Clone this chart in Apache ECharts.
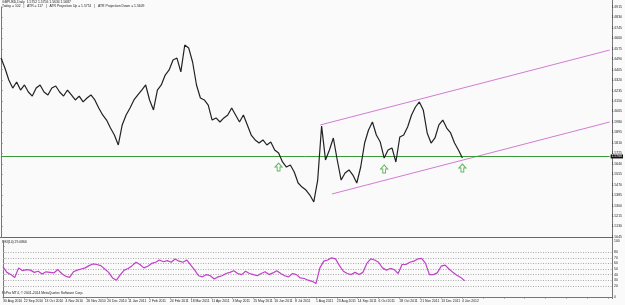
<!DOCTYPE html>
<html>
<head>
<meta charset="utf-8">
<script src="https://cdn.jsdelivr.net/npm/echarts@6/dist/echarts.min.js"></script>
<style>
html,body{margin:0;padding:0;background:#fafafa;}
#chart{width:625px;height:305px;}
</style>
</head>
<body>
<div id="chart"></div>
<script>
// ---- data ----
const dateLabels = ["30 Aug 2010","22 Sep 2010","13 Oct 2010","4 Nov 2010","26 Nov 2010","20 Dec 2010","11 Jan 2011","2 Feb 2011","24 Feb 2011","18 Mar 2011","11 Apr 2011","3 May 2011","25 May 2011","16 Jun 2011","8 Jul 2011","1 Aug 2011","23 Aug 2011","14 Sep 2011","6 Oct 2011","28 Oct 2011","21 Nov 2011","13 Dec 2011","4 Jan 2012"];
const barsPerLabel = 16;
const barsPerSample = 3;
const closePrices = [
1.6500,1.6419,1.6321,1.6256,1.6305,1.6240,1.6281,1.6224,1.6191,1.6256,
1.6281,1.6224,1.6200,1.6256,1.6273,1.6224,1.6191,1.6240,1.6200,1.6159,
1.6191,1.6143,1.6175,1.6200,1.6159,1.6094,1.6037,1.5996,1.5931,1.5874,
1.5793,1.5956,1.6037,1.6094,1.6159,1.6200,1.6240,1.6281,1.6159,1.6078,
1.6240,1.6281,1.6362,1.6403,1.6484,1.6500,1.6387,1.6606,1.6582,1.6468,
1.6281,1.6175,1.6159,1.6118,1.5996,1.6013,1.5980,1.6013,1.6037,1.6094,
1.6037,1.5980,1.6037,1.5956,1.5874,1.5834,1.5809,1.5834,1.5793,1.5817,
1.5752,1.5728,1.5655,1.5614,1.5630,1.5573,1.5484,1.5451,1.5427,1.5386,
1.5330,1.5508,1.5947,1.5671,1.5752,1.5850,1.5671,1.5508,1.5565,1.5590,
1.5549,1.5484,1.5614,1.5809,1.5915,1.5980,1.5874,1.5817,1.5687,1.5752,
1.5769,1.5655,1.5858,1.5874,1.5939,1.6037,1.6102,1.6143,1.6078,1.5891,
1.5809,1.5850,1.5956,1.5996,1.5931,1.5891,1.5809,1.5752,1.5687
];
const rsiValues = [
54,44,40,35,52,47,49,48,44,46,
41,45,44,43,49,42,37,35,45,48,
50,52,56,59,58,56,50,44,34,30,
40,48,51,56,62,58,52,55,60,62,
66,63,65,62,68,64,62,66,57,48,
38,36,40,38,32,36,38,42,44,47,
42,40,46,42,40,38,42,45,40,43,
47,42,38,36,42,40,34,33,30,28,
24,52,64,66,70,68,56,46,42,40,
44,40,44,60,68,66,62,52,48,51,
49,42,58,58,62,64,68,69,60,40,
40,43,55,57,50,44,39,35,29.0866
];
const priceMin = 1.5045, priceStep = 0.0085, priceSteps = 22;
const supportLevel = 1.5671;
const channelUpper = [[245, 1.5956], [467, 1.6565]];
const channelLower = [[254, 1.5395], [467, 1.5980]];
const arrowPoints = [[213, 1.5614], [294, 1.5598], [354, 1.5606]];
const rsiLevels = [20, 30, 40, 50, 60, 70, 80];
const rsiLabelValues = [0, 20, 30, 40, 50, 60, 70, 80, 100];
const headerLine1 = "GBPUSD,Daily  1.5752 1.5756 1.5634 1.5687";
const headerLine2 = "Today = 102   |   ATR = 117   |   ATR Projection Up = 1.5751   |   ATR Projection Down = 1.5609";
const rsiTitle = "RSI(14) 29.0866";
const footer = "FxPro MT4, \u00a9 2001-2014 MetaQuotes Software Corp.";
const lastBar = 467;

// ---- chart ----
const chart = echarts.init(document.getElementById('chart'), null, {renderer: 'canvas'});
const priceData = closePrices.map((p, j) => [j * barsPerSample, p]);
const rsiData = rsiValues.map((v, j) => [j * barsPerSample, v]);
const FS = 3.4;
const AX = '#777';

const option = {
  backgroundColor: '#fafafa',
  animation: false,
  grid: [
    {left: 1, right: 13, top: 7, height: 230},
    {left: 1, right: 13, top: 241, height: 56}
  ],
  xAxis: [
    {gridIndex: 0, type: 'value', min: 0, max: lastBar, interval: barsPerLabel,
      axisLine: {show: false}, axisTick: {show: false}, axisLabel: {show: false}, splitLine: {show: false}},
    {gridIndex: 1, type: 'value', min: 0, max: lastBar, interval: barsPerLabel,
      axisLine: {show: true, onZero: false, lineStyle: {color: AX, width: 1}},
      axisTick: {show: true, length: 1.5, lineStyle: {color: AX}},
      splitLine: {show: false},
      axisLabel: {show: true, fontSize: FS, color: '#222', align: 'left', margin: 2.5, hideOverlap: false,
        showMaxLabel: false,
        formatter: v => { const k = v / barsPerLabel; return Number.isInteger(k) && dateLabels[k] ? dateLabels[k] : ''; }}}
  ],
  yAxis: [
    {gridIndex: 0, type: 'value', position: 'right', min: priceMin, max: priceMin + priceSteps * priceStep, interval: priceStep,
      axisLine: {show: true, lineStyle: {color: AX}}, axisTick: {show: true, length: 1.5, lineStyle: {color: AX}},
      splitLine: {show: false},
      axisLabel: {fontSize: FS, color: '#222', margin: 2, formatter: v => v.toFixed(4)}},
    {gridIndex: 1, type: 'value', position: 'right', min: 0, max: 100, interval: 10,
      axisLine: {show: true, lineStyle: {color: AX}}, axisTick: {show: true, length: 1.5, lineStyle: {color: AX}},
      splitLine: {show: false},
      axisLabel: {fontSize: FS, color: '#222', margin: 2,
        formatter: v => rsiLabelValues.includes(Math.round(v)) ? String(Math.round(v)) : ''}}
  ],
  series: [
    {type: 'line', xAxisIndex: 0, yAxisIndex: 0, data: priceData, showSymbol: false, symbol: 'none',
      lineStyle: {color: '#222', width: 1.2}, z: 5,
      markLine: {silent: true, symbol: 'none', animation: false,
        lineStyle: {color: '#3a9a3a', type: 'solid', width: 1},
        label: {show: true, position: 'end', distance: 1, fontSize: FS, color: '#fff', backgroundColor: '#111',
          padding: [0.5, 1], formatter: p => p.value.toFixed(4)},
        data: [{yAxis: supportLevel}]}},
    {type: 'line', xAxisIndex: 0, yAxisIndex: 0, data: channelUpper, showSymbol: false, symbol: 'none',
      lineStyle: {color: '#d27cd2', width: 1}, z: 4},
    {type: 'line', xAxisIndex: 0, yAxisIndex: 0, data: channelLower, showSymbol: false, symbol: 'none',
      lineStyle: {color: '#d27cd2', width: 1}, z: 4},
    {type: 'scatter', xAxisIndex: 0, yAxisIndex: 0, data: arrowPoints,
      symbol: 'path://M5,0 L10,5 L7,5 L7,10 L3,10 L3,5 L0,5 Z', symbolSize: [7, 8],
      itemStyle: {color: '#fafafa', borderColor: '#3aa63a', borderWidth: 1}, z: 6},
    {type: 'line', xAxisIndex: 1, yAxisIndex: 1, data: rsiData, showSymbol: false, symbol: 'none',
      lineStyle: {color: '#c040c8', width: 1.2}, z: 5,
      markLine: {silent: true, symbol: 'none', animation: false, label: {show: false},
        lineStyle: {color: '#aaa', type: [1, 1.5], width: 1},
        data: rsiLevels.map(v => ({yAxis: v}))}}
  ],
  graphic: [
    {type: 'line', shape: {x1: 0, y1: 237.5, x2: 612, y2: 237.5}, style: {stroke: '#666', lineWidth: 1}},
    {type: 'line', shape: {x1: 612.5, y1: 0, x2: 612.5, y2: 299}, style: {stroke: AX, lineWidth: 1}},
    {type: 'text', left: 2, top: 1, style: {text: headerLine1, fontSize: FS, fill: '#222'}},
    {type: 'text', left: 2, top: 5, style: {text: headerLine2, fontSize: FS, fill: '#222'}},
    {type: 'text', left: 2, top: 241, style: {text: rsiTitle, fontSize: FS, fill: '#222'}},
    {type: 'text', left: 2, top: 292, style: {text: footer, fontSize: FS, fill: '#222'}}
  ]
};
chart.setOption(option);
</script>
</body>
</html>
